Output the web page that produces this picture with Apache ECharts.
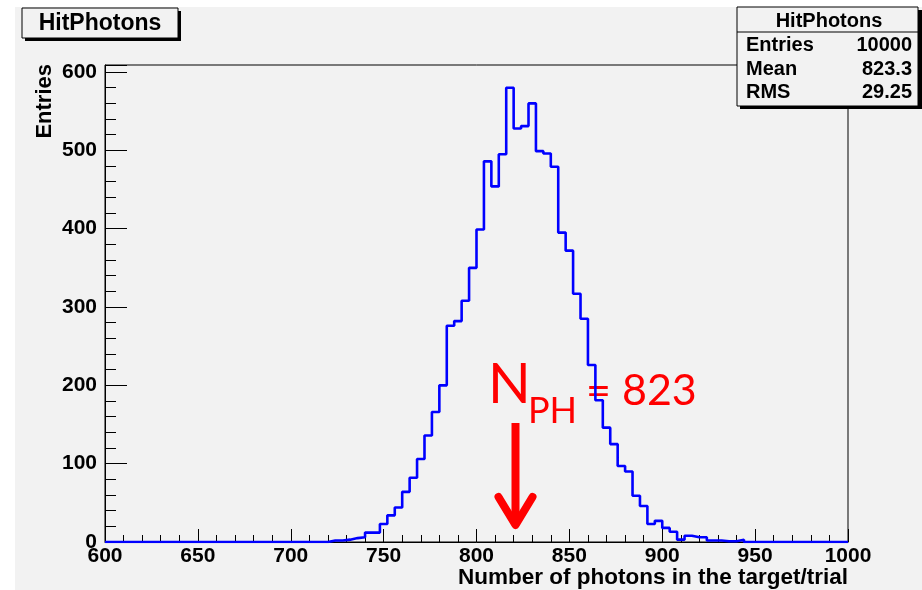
<!DOCTYPE html>
<html>
<head>
<meta charset="utf-8">
<script src="https://cdn.jsdelivr.net/npm/echarts@6/dist/echarts.min.js"></script>
<style>
html,body{margin:0;padding:0;background:#fff;}
#chart{width:922px;height:590px;}
</style>
</head>
<body>
<div id="chart"></div>
<script>
// ---- data ----
const histTitle = 'HitPhotons';
const xName = 'Number of photons in the target/trial';
const yName = 'Entries';
const binLow = 600;
const binWidth = 4;
// 100 bins, 600..1000
const counts = [
  0,0,0,0,0,0,0,0,0,0,
  0,0,0,0,0,0,0,0,0,0,
  0,0,0,0,0,0,0,0,0,0,
  2,2,3,5,6,12,12,23,34,44,
  64,82,106,136,166,200,276,282,308,350,
  399,486,454,495,580,528,531,560,499,496,
  479,395,372,317,285,226,181,146,125,97,
  90,59,46,23,27,18,13,3,8,6,
  6,2,2,1,1,3,0,0,0,0,
  0,0,0,0,0,0,0,0,0,0
];
const statsLabels = ['Entries', 'Mean', 'RMS'];
const statsValues = ['10000', '823.3', '29.25'];
const annotationValue = '823';
const arrowAt = 821;

// ---- build ----
const lineData = counts.map((c, i) => [binLow + i * binWidth, c]);
lineData.push([binLow + counts.length * binWidth, counts[counts.length - 1]]);

const chart = echarts.init(document.getElementById('chart'));
const F = 'Liberation Sans, Arial, sans-serif';
const bg = '#f2f2f2';

const option = {
  backgroundColor: bg,
  animation: false,
  grid: { left: 105, right: 74, top: 65, bottom: 48, show: true, borderColor: '#000', borderWidth: 1, backgroundColor: 'transparent' },
  xAxis: {
    type: 'value', min: 600, max: 1000, interval: 50,
    axisLine: { lineStyle: { color: '#000', width: 1 } },
    axisTick: { inside: true, length: 13, lineStyle: { color: '#000' } },
    minorTick: { show: true, splitNumber: 5, length: 7, lineStyle: { color: '#000' } },
    axisLabel: { color: '#000', fontFamily: F, fontWeight: 'bold', fontSize: 21, margin: 4, formatter: v => String(v) },
    splitLine: { show: false }
  },
  yAxis: [{
    type: 'value', min: 0, max: 609, interval: 100, position: 'left',
    axisLine: { show: true, lineStyle: { color: '#000', width: 1 } },
    axisTick: { inside: true, length: 22, lineStyle: { color: '#000' } },
    axisLabel: { color: '#000', fontFamily: F, fontWeight: 'bold', fontSize: 21, margin: 8,
      formatter: v => (v % 100 === 0 ? String(v) : '') },
    splitLine: { show: false }
  }, {
    type: 'value', min: 0, max: 609, interval: 20, position: 'left',
    axisLine: { show: false },
    axisTick: { inside: true, length: 11, lineStyle: { color: '#000' } },
    axisLabel: { show: false },
    splitLine: { show: false }
  }],
  series: [{
    type: 'line', step: 'end', data: lineData, showSymbol: false, symbol: 'none',
    yAxisIndex: 0,
    lineStyle: { color: '#0000ff', width: 2.6 }, z: 3
  }]
};
chart.setOption(option);

const ax = chart.convertToPixel({ xAxisIndex: 0 }, arrowAt);
const red = '#ff0000';
const AF = 'Lato, "Open Sans", sans-serif';

const g = [
  { type: 'rect', shape: { x: 0, y: 0, width: 15, height: 590 }, style: { fill: '#fff' }, silent: true },
  { type: 'rect', shape: { x: 0, y: 0, width: 922, height: 7 }, style: { fill: '#fff' }, silent: true },
  // title box
  { type: 'rect', shape: { x: 25, y: 11, width: 156, height: 30 }, style: { fill: '#000' } },
  { type: 'rect', shape: { x: 22, y: 8, width: 156, height: 30 }, style: { fill: bg, stroke: '#000', lineWidth: 1 } },
  { type: 'text', x: 100, y: 24, style: { text: histTitle, font: 'bold 23px ' + F, fill: '#000', align: 'center', verticalAlign: 'middle' } },
  // stats box
  { type: 'rect', shape: { x: 740, y: 10, width: 182, height: 99 }, style: { fill: '#000' } },
  { type: 'rect', shape: { x: 737, y: 7, width: 181, height: 99 }, style: { fill: bg, stroke: '#000', lineWidth: 1 } },
  { type: 'line', shape: { x1: 737, y1: 32, x2: 918, y2: 32 }, style: { stroke: '#000', lineWidth: 1 } },
  { type: 'text', x: 829, y: 21, style: { text: histTitle, font: 'bold 20px ' + F, fill: '#000', align: 'center', verticalAlign: 'middle' } },
  // axis names
  { type: 'text', x: 848, y: 578, style: { text: xName, font: 'bold 22.5px ' + F, fill: '#000', align: 'right', verticalAlign: 'middle' } },
  { type: 'text', x: 45, y: 64, rotation: Math.PI / 2, style: { text: yName, font: 'bold 22px ' + F, fill: '#000', align: 'right', verticalAlign: 'middle' } },
  // annotation
  { type: 'text', x: 488, y: 413, style: { text: 'N', font: '56px ' + AF, fill: red, align: 'left', verticalAlign: 'bottom' } },
  { type: 'text', x: 528, y: 429, style: { text: 'PH', font: '36px ' + AF, fill: red, align: 'left', verticalAlign: 'bottom' } },
  { type: 'text', x: 586, y: 413, style: { text: '= ' + annotationValue, font: '43px ' + AF, fill: red, align: 'left', verticalAlign: 'bottom' } },
  { type: 'line', shape: { x1: ax, y1: 423, x2: ax, y2: 520 }, style: { stroke: red, lineWidth: 8 } },
  { type: 'polyline', shape: { points: [[ax - 17, 497], [ax, 525], [ax + 17, 497]] }, style: { stroke: red, lineWidth: 8, lineCap: 'round', lineJoin: 'round', fill: null } }
];
const rowY = [45, 69, 92];
statsLabels.forEach((lab, i) => {
  g.push({ type: 'text', x: 746, y: rowY[i], style: { text: lab, font: 'bold 20px ' + F, fill: '#000', align: 'left', verticalAlign: 'middle' } });
  g.push({ type: 'text', x: 912, y: rowY[i], style: { text: statsValues[i], font: 'bold 20px ' + F, fill: '#000', align: 'right', verticalAlign: 'middle' } });
});
chart.setOption({ graphic: { elements: g } });
</script>
</body>
</html>
